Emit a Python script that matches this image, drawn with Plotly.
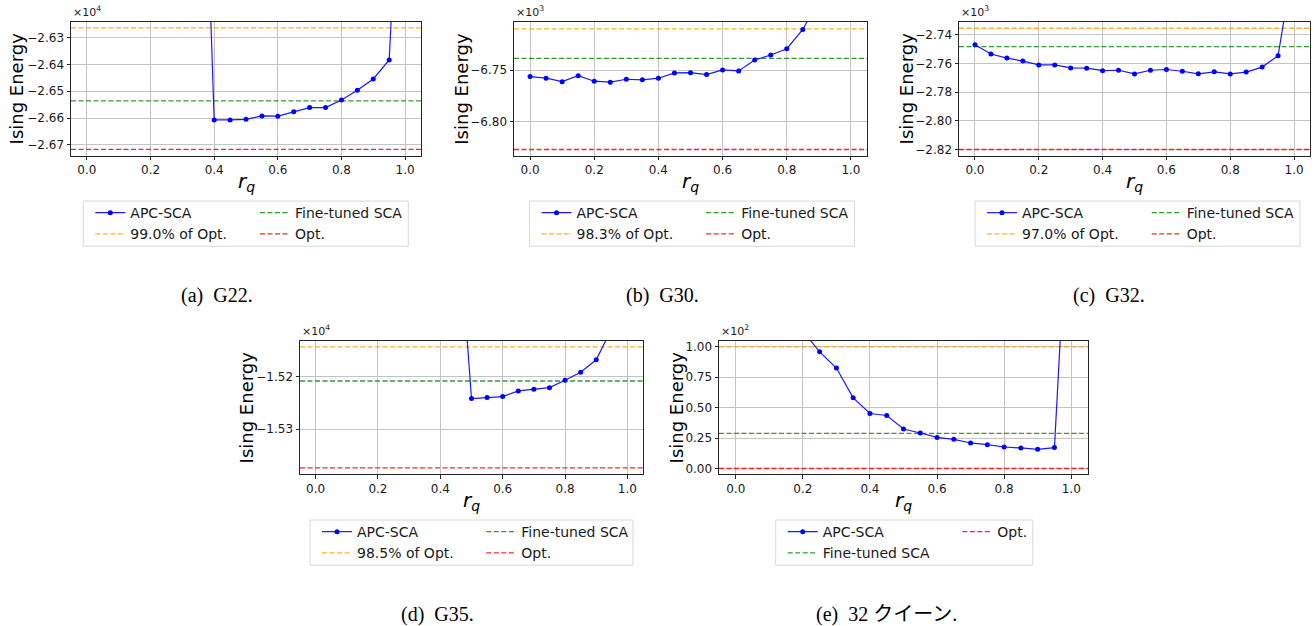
import plotly.graph_objects as go

W, H = 1314, 626

# ---------------- data ----------------
rq = [0.0, 0.05, 0.1, 0.15, 0.2, 0.25, 0.3, 0.35, 0.4, 0.45, 0.5,
      0.55, 0.6, 0.65, 0.7, 0.75, 0.8, 0.85, 0.9, 0.95, 1.0]

g22_apc = [-21500, -21900, -22300, -22700, -23200, -23700, -24200, -24830,
           -26607, -26607, -26605, -26592, -26593, -26577, -26561, -26561,
           -26533, -26496, -26454, -26383, -25200]
g22_ft, g22_pct, g22_opt = -26536, -26263, -26717

g30_apc = [-6756.1, -6757.7, -6761.0, -6755.2, -6760.6, -6761.5, -6758.7,
           -6759.3, -6757.7, -6752.6, -6752.3, -6754.2, -6749.7, -6750.7,
           -6740.1, -6735.3, -6729.2, -6710.6, -6682.0, -6640.0, -6560.0]
g30_ft, g30_pct, g30_opt = -6738.5, -6710.0, -6826.6

g32_apc = [-2746.9, -2753.4, -2756.2, -2758.3, -2761.0, -2761.0, -2763.1,
           -2763.3, -2765.0, -2764.7, -2767.3, -2764.7, -2764.2, -2765.4,
           -2767.2, -2765.8, -2767.3, -2766.0, -2762.5, -2754.6, -2686.8]
g32_ft, g32_pct, g32_opt = -2748.3, -2735.4, -2820.0

g35_apc = [-13500, -13600, -13700, -13850, -14000, -14200, -14400, -14600,
           -14700, -14837, -15241.7, -15239.8, -15237.9, -15227.1, -15224.0,
           -15220.9, -15206.9, -15191.7, -15167.7, -15107.7, -14950]
g35_ft, g35_pct, g35_opt = -15208.2, -15143.0, -15374.0

q32_apc = [240, 200, 170, 140, 113, 95.9, 82.6, 58.1, 45.2, 43.6, 32.5,
           29.2, 25.6, 24.0, 21.0, 19.6, 17.7, 16.9, 15.8, 17.2, 275]
q32_ft, q32_ref, q32_opt = 28.9, 100.0, 0.0

g22_tickvals = [-26300, -26400, -26500, -26600, -26700]
g22_ticktext = ["−2.63", "−2.64", "−2.65", "−2.66", "−2.67"]
g30_tickvals = [-6750, -6800]
g30_ticktext = ["−6.75", "−6.80"]
g32_tickvals = [-2740, -2760, -2780, -2800, -2820]
g32_ticktext = ["−2.74", "−2.76", "−2.78", "−2.80", "−2.82"]
g35_tickvals = [-15200, -15300]
g35_ticktext = ["−1.52", "−1.53"]
q32_tickvals = [0, 25, 50, 75, 100]
q32_ticktext = ["0.00", "0.25", "0.50", "0.75", "1.00"]
x_tickvals = [0.0, 0.2, 0.4, 0.6, 0.8, 1.0]
x_ticktext = ["0.0", "0.2", "0.4", "0.6", "0.8", "1.0"]

captions = ["(a)  G22.", "(b)  G30.", "(c)  G32.", "(d)  G35.", "(e)  32 クイーン."]
pct_labels = ["99.0% of Opt.", "98.3% of Opt.", "97.0% of Opt.", "98.5% of Opt."]

# ---------------- layout geometry (pixels) ----------------
boxes = [(71, 421, 21, 155), (514, 867, 21, 155), (959, 1310, 21, 155),
         (300, 643, 341, 475), (719, 1088, 341, 475)]
yranges = [(-26740, -26241), (-6832.4, -6703.3), (-2824.2, -2731.0),
           (-15386.7, -15131.7), (-4.9, 104.9)]
ytitle_x = [16.7, 462, 906.7, 246.7, 676.7]
exps = ["4", "3", "3", "4", "2"]
leg_boxes = [(83.3, 200.7, 408.3, 246), (529.5, 200.7, 854.5, 246),
             (975, 200.7, 1300, 246), (310, 520.7, 633, 566),
             (775.7, 520.7, 1032.7, 566)]
col2_off = [211.7, 211.7, 211.7, 211.3, 221.6]
cap_pos = [(216.5, 295), (662.5, 295), (1108.5, 295), (437, 615), (886, 615)]


def fx(px):
    return px / W


def fy(py):
    return 1 - py / H


fig = go.Figure()

series = [
    (g22_apc, g22_ft, g22_pct, g22_opt, g22_tickvals, g22_ticktext),
    (g30_apc, g30_ft, g30_pct, g30_opt, g30_tickvals, g30_ticktext),
    (g32_apc, g32_ft, g32_pct, g32_opt, g32_tickvals, g32_ticktext),
    (g35_apc, g35_ft, g35_pct, g35_opt, g35_tickvals, g35_ticktext),
    (q32_apc, q32_ft, q32_ref, q32_opt, q32_tickvals, q32_ticktext),
]

BLUE = "rgba(0,0,255,0.9)"
ORANGE = "rgba(255,165,0,0.85)"
GREEN = "rgba(0,128,0,0.8)"
RED = "rgba(255,0,0,0.85)"
DASH = "5px,2.5px"
FONT = "DejaVu Sans, Verdana, sans-serif"

annotations = []
shapes = []
layout_extra = {}

for i, (apc, ft, pct, opt, tv, tt) in enumerate(series):
    n = i + 1
    xa = "x" if n == 1 else f"x{n}"
    ya = "y" if n == 1 else f"y{n}"
    l, r, t, b = boxes[i]
    leg1 = "legend" if i == 0 else f"legend{2 * i + 1}"
    leg2 = f"legend{2 * i + 2}"
    xline = [rq[0] - 0.05, rq[-1] + 0.05]

    is_q = (i == 4)
    fig.add_trace(go.Scatter(
        x=xline, y=[pct, pct], mode="lines", xaxis=xa, yaxis=ya,
        line=dict(color=ORANGE, width=1.3, dash=DASH),
        name=(pct_labels[i] if not is_q else "ref"),
        showlegend=not is_q, legend=leg1, legendrank=2, hoverinfo="skip"))
    fig.add_trace(go.Scatter(
        x=xline, y=[ft, ft], mode="lines", xaxis=xa, yaxis=ya,
        line=dict(color=GREEN, width=1.3, dash=DASH),
        name="Fine-tuned SCA", legend=(leg1 if is_q else leg2),
        legendrank=(2 if is_q else 1), hoverinfo="skip"))
    fig.add_trace(go.Scatter(
        x=xline, y=[opt, opt], mode="lines", xaxis=xa, yaxis=ya,
        line=dict(color=RED, width=1.3, dash=DASH),
        name="Opt.", legend=leg2, legendrank=3, hoverinfo="skip"))
    fig.add_trace(go.Scatter(
        x=rq, y=apc, mode="lines+markers", xaxis=xa, yaxis=ya,
        line=dict(color=BLUE, width=1.2),
        marker=dict(color="blue", size=5),
        name="APC-SCA", legend=leg1, legendrank=1))

    axis_common = dict(
        showline=True, mirror=True, linecolor="#262626", linewidth=1,
        ticks="outside", ticklen=3.5, tickwidth=0.8, tickcolor="#262626",
        showgrid=True, gridcolor="#c4c4c4", gridwidth=1, zeroline=False,
        tickfont=dict(family=FONT, size=12, color="#1a1a1a"),
    )
    layout_extra["xaxis" if n == 1 else f"xaxis{n}"] = dict(
        axis_common, domain=[fx(l), fx(r)], anchor=ya, range=[-0.05, 1.05],
        tickmode="array", tickvals=x_tickvals, ticktext=x_ticktext)
    layout_extra["yaxis" if n == 1 else f"yaxis{n}"] = dict(
        axis_common, domain=[fy(b), fy(t)], anchor=xa, range=list(yranges[i]),
        tickmode="array", tickvals=tv, ticktext=tt)

    annotations.append(dict(
        text="Ising Energy", textangle=-90, x=fx(ytitle_x[i]), y=fy((t + b) / 2),
        xref="paper", yref="paper", xanchor="center", yanchor="middle",
        showarrow=False, font=dict(family=FONT, size=18, color="black")))
    annotations.append(dict(
        text="<i>r</i><sub><i>q</i></sub>", x=fx((l + r) / 2), y=fy(b + 12),
        xref="paper", yref="paper", xanchor="center", yanchor="top",
        showarrow=False, font=dict(family=FONT, size=20, color="black")))
    annotations.append(dict(
        text=f"×10<sup>{exps[i]}</sup>", x=fx(l), y=fy(t - 1),
        xref="paper", yref="paper", xanchor="left", yanchor="bottom",
        showarrow=False, font=dict(family=FONT, size=11, color="#1a1a1a")))
    cx, cy = cap_pos[i]
    annotations.append(dict(
        text=captions[i], x=fx(cx), y=fy(cy), xref="paper", yref="paper",
        xanchor="center", yanchor="middle", showarrow=False,
        font=dict(family="Liberation Serif, Noto Sans CJK JP, serif", size=20,
                  color="black")))

    bl, bt, br, bb = leg_boxes[i]
    shapes.append(dict(
        type="rect", xref="paper", yref="paper", x0=fx(bl), x1=fx(br),
        y0=fy(bb), y1=fy(bt), line=dict(color="#d9d9d9", width=1),
        fillcolor="rgba(255,255,255,0)", layer="above"))
    leg_common = dict(
        orientation="v", xanchor="left", yanchor="top",
        bgcolor="rgba(0,0,0,0)", borderwidth=0,
        font=dict(family=FONT, size=14, color="#1a1a1a"),
        itemclick=False, itemdoubleclick=False, traceorder="normal")
    layout_extra[leg1] = dict(leg_common, x=fx(bl + 7), y=fy(bt - 4))
    layout_extra[leg2] = dict(leg_common, x=fx(bl + col2_off[i] - 40), y=fy(bt - 4))

fig.update_layout(
    width=W, height=H, margin=dict(l=0, r=0, t=0, b=0),
    paper_bgcolor="white", plot_bgcolor="white", hovermode=False,
    annotations=annotations, shapes=shapes, **layout_extra)

fig.write_html("out.html", config={"displayModeBar": False},
               post_script="document.body.style.margin='0px';document.body.style.overflow='hidden';")
